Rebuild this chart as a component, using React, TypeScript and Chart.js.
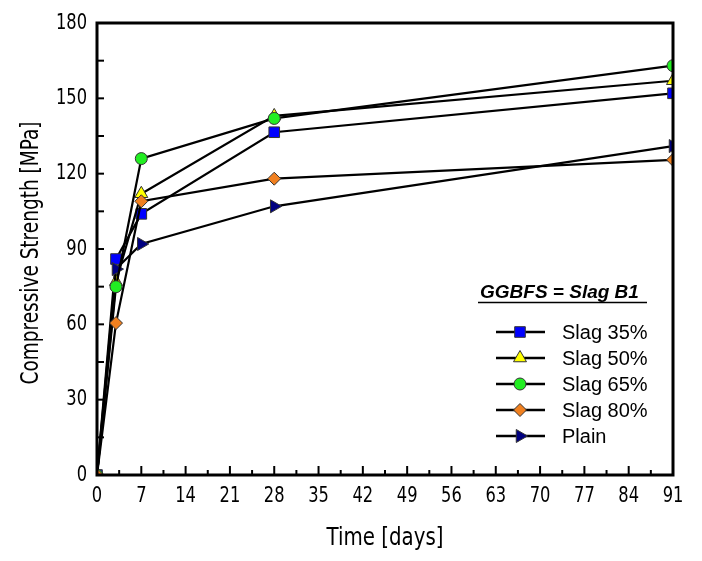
import React, { useEffect, useRef } from "react";
import { Chart, registerables } from "chart.js";

Chart.register(...registerables);

const days = [0, 3, 7, 28, 91];
const slag35 = [0, 86, 104, 136.5, 152];
const slag50 = [0, 77, 112, 143, 157];
const slag65 = [0, 75, 126, 142, 163];
const slag80 = [0, 60.5, 109, 118, 125.5];
const plain = [0, 82, 92, 107, 131];
const seriesNames = ["Slag 35%", "Slag 50%", "Slag 65%", "Slag 80%", "Plain"];
const xTicks = [0, 7, 14, 21, 28, 35, 42, 49, 56, 63, 70, 77, 84, 91];
const yTicks = [0, 30, 60, 90, 120, 150, 180];
const xTitle = "Time [days]";
const yTitle = "Compressive Strength [MPa]";
const legendTitle = "GGBFS = Slag B1";

const styles = [
  { color: "#0000ff", shape: "rect", rot: 0, r: 7.5, order: 4 },
  { color: "#ffff00", shape: "triangle", rot: 0, r: 7.5, order: 3 },
  { color: "#22ee22", shape: "circle", rot: 0, r: 6, order: 1 },
  { color: "#f08020", shape: "rectRot", rot: 0, r: 6.5, order: 0 },
  { color: "#000080", shape: "triangle", rot: 90, r: 7.5, order: 2 },
];

const AXIS_FONT = "'DejaVu Sans', sans-serif";
const LEG_FONT = "'Liberation Sans', Arial, sans-serif";

function marker(ctx: CanvasRenderingContext2D, shape: string, r: number, rot: number, x: number, y: number) {
  ctx.save();
  ctx.translate(x, y);
  ctx.rotate((rot * Math.PI) / 180);
  ctx.beginPath();
  if (shape === "rect") {
    const s = r * Math.SQRT1_2;
    ctx.rect(-s, -s, 2 * s, 2 * s);
  } else if (shape === "circle") {
    ctx.arc(0, 0, r, 0, Math.PI * 2);
  } else if (shape === "rectRot") {
    ctx.moveTo(0, -r);
    ctx.lineTo(r, 0);
    ctx.lineTo(0, r);
    ctx.lineTo(-r, 0);
    ctx.closePath();
  } else {
    let a = 0;
    ctx.moveTo(Math.sin(a) * r, -Math.cos(a) * r);
    a += (2 * Math.PI) / 3;
    ctx.lineTo(Math.sin(a) * r, -Math.cos(a) * r);
    a += (2 * Math.PI) / 3;
    ctx.lineTo(Math.sin(a) * r, -Math.cos(a) * r);
    ctx.closePath();
  }
  ctx.fill();
  ctx.stroke();
  ctx.restore();
}

function condText(ctx: CanvasRenderingContext2D, text: string, x: number, y: number, font: string, sx: number, align: CanvasTextAlign, baseline: CanvasTextBaseline, rot = 0) {
  ctx.save();
  ctx.font = font;
  ctx.translate(x, y);
  if (rot) ctx.rotate(rot);
  ctx.scale(sx, 1);
  ctx.textAlign = align;
  ctx.textBaseline = baseline;
  ctx.fillStyle = "#000";
  ctx.fillText(text, 0, 0);
  ctx.restore();
}

const framePlugin = {
  id: "frame",
  afterDraw(chart: any) {
    const { ctx, chartArea } = chart;
    const xs = chart.scales.x;
    const ys = chart.scales.y;
    ctx.save();
    ctx.strokeStyle = "#000";
    ctx.lineWidth = 2;
    for (let v = 0; v <= 91; v += 3.5) {
      const px = xs.getPixelForValue(v);
      const major = Math.abs(v % 7) < 1e-6;
      ctx.beginPath();
      ctx.moveTo(px, chartArea.bottom);
      ctx.lineTo(px, chartArea.bottom - (major ? 9 : 5));
      ctx.stroke();
    }
    for (let v = 0; v <= 180; v += 15) {
      const py = ys.getPixelForValue(v);
      ctx.beginPath();
      ctx.moveTo(chartArea.left, py);
      ctx.lineTo(chartArea.left + 7, py);
      ctx.stroke();
    }
    ctx.lineWidth = 3;
    ctx.strokeRect(chartArea.left, chartArea.top, chartArea.right - chartArea.left, chartArea.bottom - chartArea.top);

    // tick labels
    const tickFont = `22px ${AXIS_FONT}`;
    xTicks.forEach((v) => {
      condText(ctx, String(v), xs.getPixelForValue(v), chartArea.bottom + 21, tickFont, 0.74, "center", "middle");
    });
    yTicks.forEach((v) => {
      condText(ctx, String(v), chartArea.left - 10, ys.getPixelForValue(v), tickFont, 0.74, "right", "middle");
    });
    // axis titles
    ctx.font = `25px ${AXIS_FONT}`;
    const xw = ctx.measureText(xTitle).width;
    condText(ctx, xTitle, (chartArea.left + chartArea.right) / 2, 545, `25px ${AXIS_FONT}`, 117 / xw, "center", "alphabetic");
    ctx.font = `24px ${AXIS_FONT}`;
    const yw = ctx.measureText(yTitle).width;
    condText(ctx, yTitle, 38, 253, `24px ${AXIS_FONT}`, 263 / yw, "center", "alphabetic", -Math.PI / 2);

    // legend
    const lx = 496;
    const tx = 562;
    const rows = [332, 358, 384, 410, 436];
    ctx.font = `bold italic 19px ${LEG_FONT}`;
    ctx.fillStyle = "#000";
    ctx.textBaseline = "middle";
    ctx.textAlign = "left";
    const tX = 480;
    const tw = 167;
    ctx.fillText(legendTitle, tX, 293, tw);
    ctx.strokeStyle = "#000";
    ctx.lineWidth = 1.3;
    ctx.beginPath();
    ctx.moveTo(tX - 2, 302.5);
    ctx.lineTo(tX + tw, 302.5);
    ctx.stroke();
    ctx.font = `20px ${LEG_FONT}`;
    seriesNames.forEach((name, i) => {
      const y = rows[i];
      ctx.strokeStyle = "#000";
      ctx.lineWidth = 2.5;
      ctx.beginPath();
      ctx.moveTo(lx, y);
      ctx.lineTo(lx + 49, y);
      ctx.stroke();
      const st = styles[i];
      ctx.fillStyle = st.color;
      ctx.strokeStyle = "#333";
      ctx.lineWidth = 1;
      marker(ctx, st.shape, st.r, st.rot, lx + 24, y);
      ctx.fillStyle = "#000";
      ctx.fillText(name, tx, y + 1);
    });
    ctx.restore();
  },
};

export default function App() {
  const ref = useRef<HTMLCanvasElement | null>(null);
  useEffect(() => {
    if (!ref.current) return;
    const all = [slag35, slag50, slag65, slag80, plain];
    const chart = new Chart(ref.current, {
      type: "line",
      data: {
        datasets: all.map((vals, i) => ({
          label: seriesNames[i],
          data: vals.map((v, j) => ({ x: days[j], y: v })),
          order: styles[i].order,
          borderColor: "#000",
          borderWidth: 2.2,
          backgroundColor: styles[i].color,
          pointBackgroundColor: styles[i].color,
          pointBorderColor: "#333",
          pointBorderWidth: 1,
          pointStyle: styles[i].shape as any,
          pointRotation: styles[i].rot,
          pointRadius: styles[i].r,
          tension: 0,
        })),
      },
      options: {
        animation: false,
        responsive: false,
        maintainAspectRatio: false,
        layout: { padding: { top: 23, right: 29, left: 0, bottom: 0 } },
        plugins: { legend: { display: false }, tooltip: { enabled: false } },
        scales: {
          x: {
            type: "linear",
            min: 0,
            max: 91,
            grid: { display: false },
            border: { display: false },
            afterBuildTicks: (s: any) => { s.ticks = xTicks.map((v) => ({ value: v })); },
            ticks: { display: false },
            afterFit: (s: any) => { s.height = 86; },
          },
          y: {
            min: 0,
            max: 180,
            grid: { display: false },
            border: { display: false },
            afterBuildTicks: (s: any) => { s.ticks = yTicks.map((v) => ({ value: v })); },
            ticks: { display: false },
            afterFit: (s: any) => { s.width = 97; },
          },
        },
      },
      plugins: [framePlugin],
    });
    return () => chart.destroy();
  }, []);
  return (
    <div style={{ position: "fixed", left: 0, top: 0, width: 702, height: 561, background: "#fff" }}>
      <canvas ref={ref} width={702} height={561} style={{ width: 702, height: 561 }} />
    </div>
  );
}
